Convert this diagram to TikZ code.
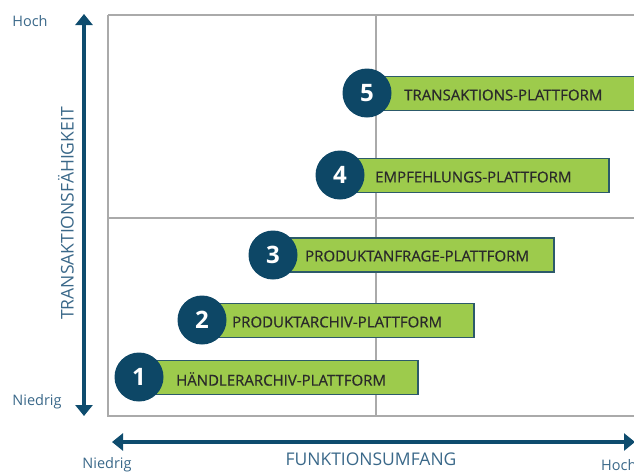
\documentclass[tikz,border=0pt]{standalone}
\usepackage{fontspec}
\setmainfont{Open Sans}
\newfontfamily\barfont[FakeBold=0.5]{Open Sans}
\usetikzlibrary{arrows.meta}
\definecolor{navy}{HTML}{0D4766}
\definecolor{arrowblue}{HTML}{0E4C6E}
\definecolor{labelblue}{HTML}{3A6889}
\definecolor{barfill}{HTML}{9DCB4C}
\definecolor{barline}{HTML}{2C5A6A}
\definecolor{gridgray}{HTML}{AAAAAA}
\definecolor{bartext}{HTML}{2A2A2A}
\tikzset{
  numcircle/.style={circle, fill=navy, draw=none, minimum size=49pt, inner sep=0pt, text=white, font=\fontsize{24}{24}\selectfont\bfseries},
  barbox/.style={rectangle, fill=barfill, draw=barline, line width=1.5pt, minimum height=34pt, anchor=west, inner sep=0pt},
  bartxt/.style={anchor=west, inner sep=0pt, text=bartext, font=\barfont\fontsize{15}{15}\selectfont},
  axisarrow/.style={draw=arrowblue, line width=3.5pt, {Triangle[length=11pt,width=17pt]}-{Triangle[length=11pt,width=17pt]}},
  axislabel/.style={text=labelblue, inner sep=0pt, font=\fontsize{17.5}{17.5}\selectfont},
  ticklabel/.style={text=labelblue, inner sep=0pt, font=\fontsize{14.5}{14.5}\selectfont},
  grid/.style={draw=gridgray, line width=1.3pt}
}
\begin{document}
\begin{tikzpicture}[x=1pt,y=-1pt]
\useasboundingbox (0,0) rectangle (634,472);
% grid
\draw[grid] (108,15) -- (660,15);
\draw[grid] (108,15) -- (108,416) -- (660,416);
\draw[grid] (376,15) -- (376,416);
\draw[grid] (108,218) -- (660,218);
% axes
\coordinate (vtop) at (84,14);
\coordinate (vbot) at (84,416);
\coordinate (hleft) at (112,442);
\coordinate (hright) at (635,442);
\draw[axisarrow] (vbot) -- (vtop);
\draw[axisarrow] (hleft) -- (hright);
\node[ticklabel] (yhoch) at (30,21) {Hoch};
\node[ticklabel] (yniedrig) at (37,402) {Niedrig};
\node[ticklabel] (xniedrig) at (107,465) {Niedrig};
\node[ticklabel, anchor=west] (xhoch) at (601,465) {Hoch};
\node[axislabel, rotate=90] (ylab) at (66,213.5) {TRANSAKTIONSFÄHIGKEIT};
\node[axislabel] (xlab) at (371,459) {FUNKTIONSUMFANG};
% bars
\node[barbox, minimum width=278pt] (b1) at (139,377.5) {};
\node[barbox, minimum width=271pt] (b2) at (202,320.5) {};
\node[barbox, minimum width=280pt] (b3) at (273,255) {};
\node[barbox, minimum width=268pt] (b4) at (340,175.5) {};
\node[barbox, minimum width=300pt] (b5) at (367,93.5) {};
\node[bartxt] (t1) at (176,379) {HÄNDLERARCHIV-PLATTFORM};
\node[bartxt] (t2) at (232,322) {PRODUKTARCHIV-PLATTFORM};
\node[bartxt] (t3) at (305,256) {PRODUKTANFRAGE-PLATTFORM};
\node[bartxt] (t4) at (375,177) {EMPFEHLUNGS-PLATTFORM};
\node[bartxt] (t5) at (404,95) {TRANSAKTIONS-PLATTFORM};
\node[numcircle] (c1) at (139,377) {1};
\node[numcircle] (c2) at (202,320) {2};
\node[numcircle] (c3) at (273,255) {3};
\node[numcircle] (c4) at (340,175) {4};
\node[numcircle] (c5) at (367,93) {5};
\end{tikzpicture}
\end{document}
